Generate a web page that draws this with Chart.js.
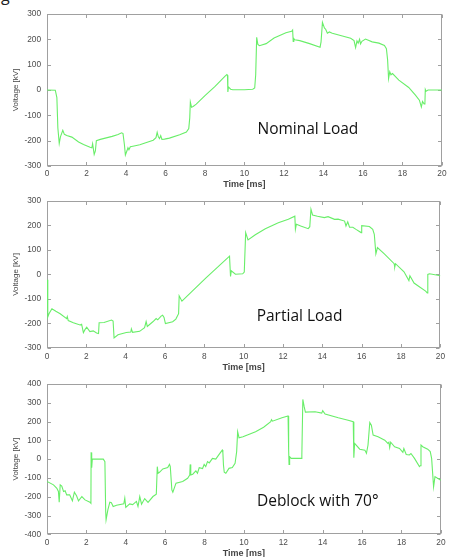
<!DOCTYPE html>
<html>
<head>
<meta charset="utf-8">
<script src="https://cdn.jsdelivr.net/npm/chart.js@4.4.1/dist/chart.umd.min.js"></script>
<style>
  html, body { margin: 0; padding: 0; background: #fff; overflow: hidden; }
  #page { position: relative; width: 449px; height: 557px; overflow: hidden; }
  canvas { position: absolute; left: 0; }
  #cut { position: absolute; left: 1px; top: -13px; font-family: "Open Sans"; font-size: 16px; line-height: 16px; color: #222; }
</style>
</head>
<body>
<div id="page">
  <div id="cut">g</div>
  <canvas id="c1" width="449" height="190" style="top:0px"></canvas>
  <canvas id="c2" width="449" height="183" style="top:190px"></canvas>
  <canvas id="c3" width="449" height="186" style="top:373px"></canvas>
</div>
<script>
// time axis (ms) and voltage (kV)
var nominalTime = [0,0.42,0.5,0.55,0.62,0.68,0.8,0.88,1.0,1.26,
  1.6,1.85,2.18,2.27,2.31,2.39,2.45,2.5,2.7,3.0,
  3.3,3.6,3.78,3.85,3.92,3.97,4.05,4.1,4.15,4.22,
  4.35,4.7,5.0,5.38,5.52,5.58,5.64,5.7,5.76,5.82,
  5.95,6.2,6.72,7.06,7.18,7.23,7.26,7.32,7.4,7.56,
  8.0,8.5,9.02,9.11,9.14,9.16,9.19,9.3,9.41,10.0,
  10.42,10.52,10.57,10.62,10.68,10.76,11.1,11.5,12.1,12.39,
  12.44,12.47,12.5,12.55,12.8,13.3,13.83,13.88,13.95,14.05,
  14.12,14.2,14.3,14.45,14.96,15.38,15.55,15.63,15.7,15.76,
  15.83,15.88,15.95,16.13,16.47,16.81,17.09,17.19,17.25,17.3,
  17.36,17.42,17.5,17.82,18.32,18.66,18.86,18.96,19.02,19.1,
  19.14,19.16,19.2,19.3,20];
var nominalVolt = [0,-1,-30,-150,-211,-185,-159,-175,-180,-186,
  -205,-215,-226,-228,-212,-254,-240,-200,-195,-189,
  -183,-176,-169,-172,-215,-257,-240,-228,-236,-224,
  -222,-216,-208,-198,-188,-167,-185,-192,-180,-195,
  -194,-190,-177,-166,-152,-110,-48,-68,-65,-56,
  -22,13,55,61,58,-8,12,3,1,1,
  3,8,60,208,180,175,183,205,226,232,
  237,192,203,198,195,183,169,190,267,245,
  239,224,229,224,213,204,195,167,194,185,
  200,182,192,201,190,185,176,163,120,45,
  72,60,65,39,10,-20,-40,-67,-45,-55,
  -52,2,-5,0,0];

var partialTime = [0,0.04,0.1,0.25,0.45,0.67,1.0,1.03,1.08,1.34,
  1.68,1.76,1.85,1.93,2.02,2.18,2.35,2.52,2.62,2.65,
  2.9,3.28,3.36,3.41,3.61,4.03,4.26,4.29,4.35,4.71,
  4.96,5.04,5.1,5.38,5.55,5.63,5.8,5.88,5.95,6.02,
  6.39,6.55,6.69,6.72,6.86,8.07,9.28,9.33,9.37,9.58,
  9.95,10.03,10.1,10.22,10.59,11.1,11.76,12.27,12.6,12.63,
  12.68,12.9,13.28,13.36,13.42,13.5,13.75,14.1,14.29,14.62,
  14.8,15.13,15.2,15.29,15.38,15.55,15.71,15.97,16.0,16.39,
  16.56,16.64,16.72,16.8,17.15,17.65,17.68,17.72,18.15,18.4,
  18.45,18.66,18.91,19.25,19.33,19.36,19.45,20];
var partialVolt = [-21,-173,-160,-140,-150,-160,-180,-172,-188,-197,
  -206,-203,-237,-225,-215,-233,-230,-239,-241,-197,
  -196,-186,-190,-259,-246,-237,-235,-222,-236,-232,
  -217,-192,-212,-193,-180,-185,-170,-166,-175,-200,
  -193,-182,-160,-87,-109,-15,75,-8,15,1,
  3,10,171,141,162,187,211,225,238,185,
  205,198,187,195,266,243,238,232,236,225,
  226,218,198,215,193,193,184,171,199,196,
  184,164,84,110,84,44,30,44,11,-25,
  -5,-35,-49,-68,-75,0,3,-5];

var deblockTime = [0,0.33,0.5,0.58,0.62,0.67,0.75,0.84,0.92,1.0,
  1.15,1.29,1.39,1.5,1.6,1.77,1.93,2.18,2.23,2.24,
  2.27,2.3,2.86,2.94,2.98,3.0,3.09,3.19,3.27,3.36,
  3.53,3.9,3.95,4.0,4.2,4.35,4.54,4.62,4.71,4.8,
  4.96,5.13,5.38,5.55,5.6,5.64,5.71,5.88,6.13,6.22,
  6.26,6.34,6.39,6.55,6.89,7.14,7.25,7.27,7.3,7.4,
  7.56,7.64,7.73,7.9,7.98,8.06,8.15,8.24,8.4,8.57,
  8.74,8.9,8.93,8.96,9.0,9.08,9.24,9.41,9.55,9.63,
  9.68,9.75,9.95,10.59,11.0,11.36,11.4,11.45,11.93,12.24,
  12.27,12.29,12.32,12.4,12.91,12.94,12.99,13.06,13.12,13.61,
  13.95,14.0,14.12,14.79,15.29,15.55,15.58,15.62,15.7,15.88,
  16.14,16.22,16.3,16.39,16.47,16.56,16.81,17.15,17.31,17.36,
  17.4,17.45,17.65,17.9,18.07,18.12,18.24,18.4,18.48,18.66,
  18.91,18.95,18.99,19.08,19.33,19.46,19.53,19.63,19.7,19.83,
  20];
var deblockVolt = [-119,-137,-155,-172,-229,-137,-144,-172,-168,-190,
  -190,-222,-176,-195,-222,-199,-217,-229,-235,36,
  -45,0,0,-13,-278,-323,-270,-229,-232,-252,
  -245,-238,-208,-257,-238,-242,-225,-252,-199,-240,
  -210,-230,-199,-187,-40,-75,-70,-52,-45,-28,
  -40,-164,-176,-128,-119,-102,-84,-28,-84,-80,
  -63,-75,-45,-50,-28,-40,-13,-20,4,0,
  25,48,35,-31,-70,-75,-49,-45,-22,40,
  146,114,119,146,170,200,210,202,220,230,
  48,-28,13,4,4,22,318,278,250,252,
  245,258,240,220,207,199,8,84,75,53,
  48,31,75,195,181,128,119,101,84,90,
  61,90,66,57,36,57,25,22,30,4,
  -40,-35,75,66,53,40,4,-147,-93,-102,
  -112];

var timeTicks = [0,2,4,6,8,10,12,14,16,18,20];
var voltTicks = [-300,-200,-100,0,100,200,300];
var voltTicksWide = [-400,-300,-200,-100,0,100,200,300,400];

var labels = ["Nominal Load", "Partial Load", "Deblock with 70\u00b0"];

var greyText = '#4d4d4d';
var lineGreen = 'rgb(105,238,105)';

// matlab style box with inward ticks on all four sides
var frame = {
  id: 'frame',
  beforeDatasetsDraw: function (chart) {
    var ctx = chart.ctx;
    var a = chart.chartArea;
    var sx = chart.scales.x, sy = chart.scales.y;
    var l = Math.round(a.left) + 0.5, r = Math.round(a.right) - 0.5;
    var t = Math.round(a.top) + 0.5, b = Math.round(a.bottom) - 0.5;
    ctx.save();
    ctx.strokeStyle = '#a0a0a0';
    ctx.lineWidth = 1;
    ctx.strokeRect(l, t, r - l, b - t);
    ctx.beginPath();
    sx.ticks.forEach(function (tk) {
      var px = Math.round(sx.getPixelForValue(tk.value)) + 0.5;
      ctx.moveTo(px, b); ctx.lineTo(px, b - 3.5);
      ctx.moveTo(px, t); ctx.lineTo(px, t + 3.5);
    });
    sy.ticks.forEach(function (tk) {
      var py = Math.round(sy.getPixelForValue(tk.value)) + 0.5;
      ctx.moveTo(l, py); ctx.lineTo(l + 3.5, py);
      ctx.moveTo(r, py); ctx.lineTo(r - 3.5, py);
    });
    ctx.stroke();
    ctx.restore();
  }
};

var note = {
  id: 'note',
  afterDraw: function (chart, args, opts) {
    if (!opts.text) return;
    var ctx = chart.ctx;
    var px = chart.scales.x.getPixelForValue(opts.x);
    var py = chart.scales.y.getPixelForValue(opts.y);
    ctx.save();
    ctx.font = '15.5px "Open Sans"';
    ctx.fillStyle = '#111';
    ctx.textAlign = 'left';
    ctx.textBaseline = 'middle';
    ctx.fillText(opts.text, px, py);
    ctx.restore();
  }
};

function makeChart(id, times, volts, yTicks, top, bottom, labelPad, text, noteY) {
  var canvas = document.getElementById(id);
  var h = canvas.height;
  var pts = [];
  for (var i = 0; i < times.length; i++) {
    pts.push({ x: times[i], y: volts[i] });
  }
  return new Chart(canvas, {
    type: 'line',
    data: {
      datasets: [{
        data: pts,
        borderColor: lineGreen,
        borderWidth: 1.1,
        pointRadius: 0,
        tension: 0,
        fill: false
      }]
    },
    options: {
      responsive: false,
      animation: false,
      layout: { padding: { left: 0, right: 6, top: top, bottom: 0 } },
      plugins: {
        legend: { display: false },
        tooltip: { enabled: false },
        note: { text: text, x: 10.66, y: noteY }
      },
      scales: {
        x: {
          type: 'linear',
          min: timeTicks[0],
          max: timeTicks[timeTicks.length - 1],
          afterBuildTicks: function (s) { s.ticks = timeTicks.map(function (v) { return { value: v }; }); },
          afterFit: function (s) { s.height = h - bottom; },
          grid: { display: false, drawTicks: false },
          border: { display: false },
          ticks: { color: greyText, padding: labelPad, maxRotation: 0, font: { family: 'Liberation Sans', size: 8.3 } },
          title: {
            display: true,
            text: 'Time [ms]',
            color: '#444',
            padding: { top: 0, bottom: 0 },
            font: { family: 'Liberation Sans', size: 9, weight: 'bold', lineHeight: 1.2 }
          }
        },
        y: {
          type: 'linear',
          min: yTicks[0],
          max: yTicks[yTicks.length - 1],
          afterBuildTicks: function (s) { s.ticks = yTicks.map(function (v) { return { value: v }; }); },
          afterFit: function (s) { s.width = 47; },
          grid: { display: false, drawTicks: false },
          border: { display: false },
          ticks: { color: greyText, padding: 6, font: { family: 'Liberation Sans', size: 8.3 } },
          title: {
            display: true,
            text: 'Voltage [kV]',
            color: '#444',
            padding: { top: 11, bottom: 0 },
            font: { family: 'Liberation Sans', size: 8, lineHeight: 1.2 }
          }
        }
      }
    },
    plugins: [frame, note]
  });
}

makeChart('c1', nominalTime, nominalVolt, voltTicks, 14, 166, 2.5, labels[0], -155);
makeChart('c2', partialTime, partialVolt, voltTicks, 7.3, 158, 4, labels[1], -170);
makeChart('c3', deblockTime, deblockVolt, voltTicksWide, 10.3, 161.3, 3.5, labels[2], -227);
</script>
</body>
</html>
